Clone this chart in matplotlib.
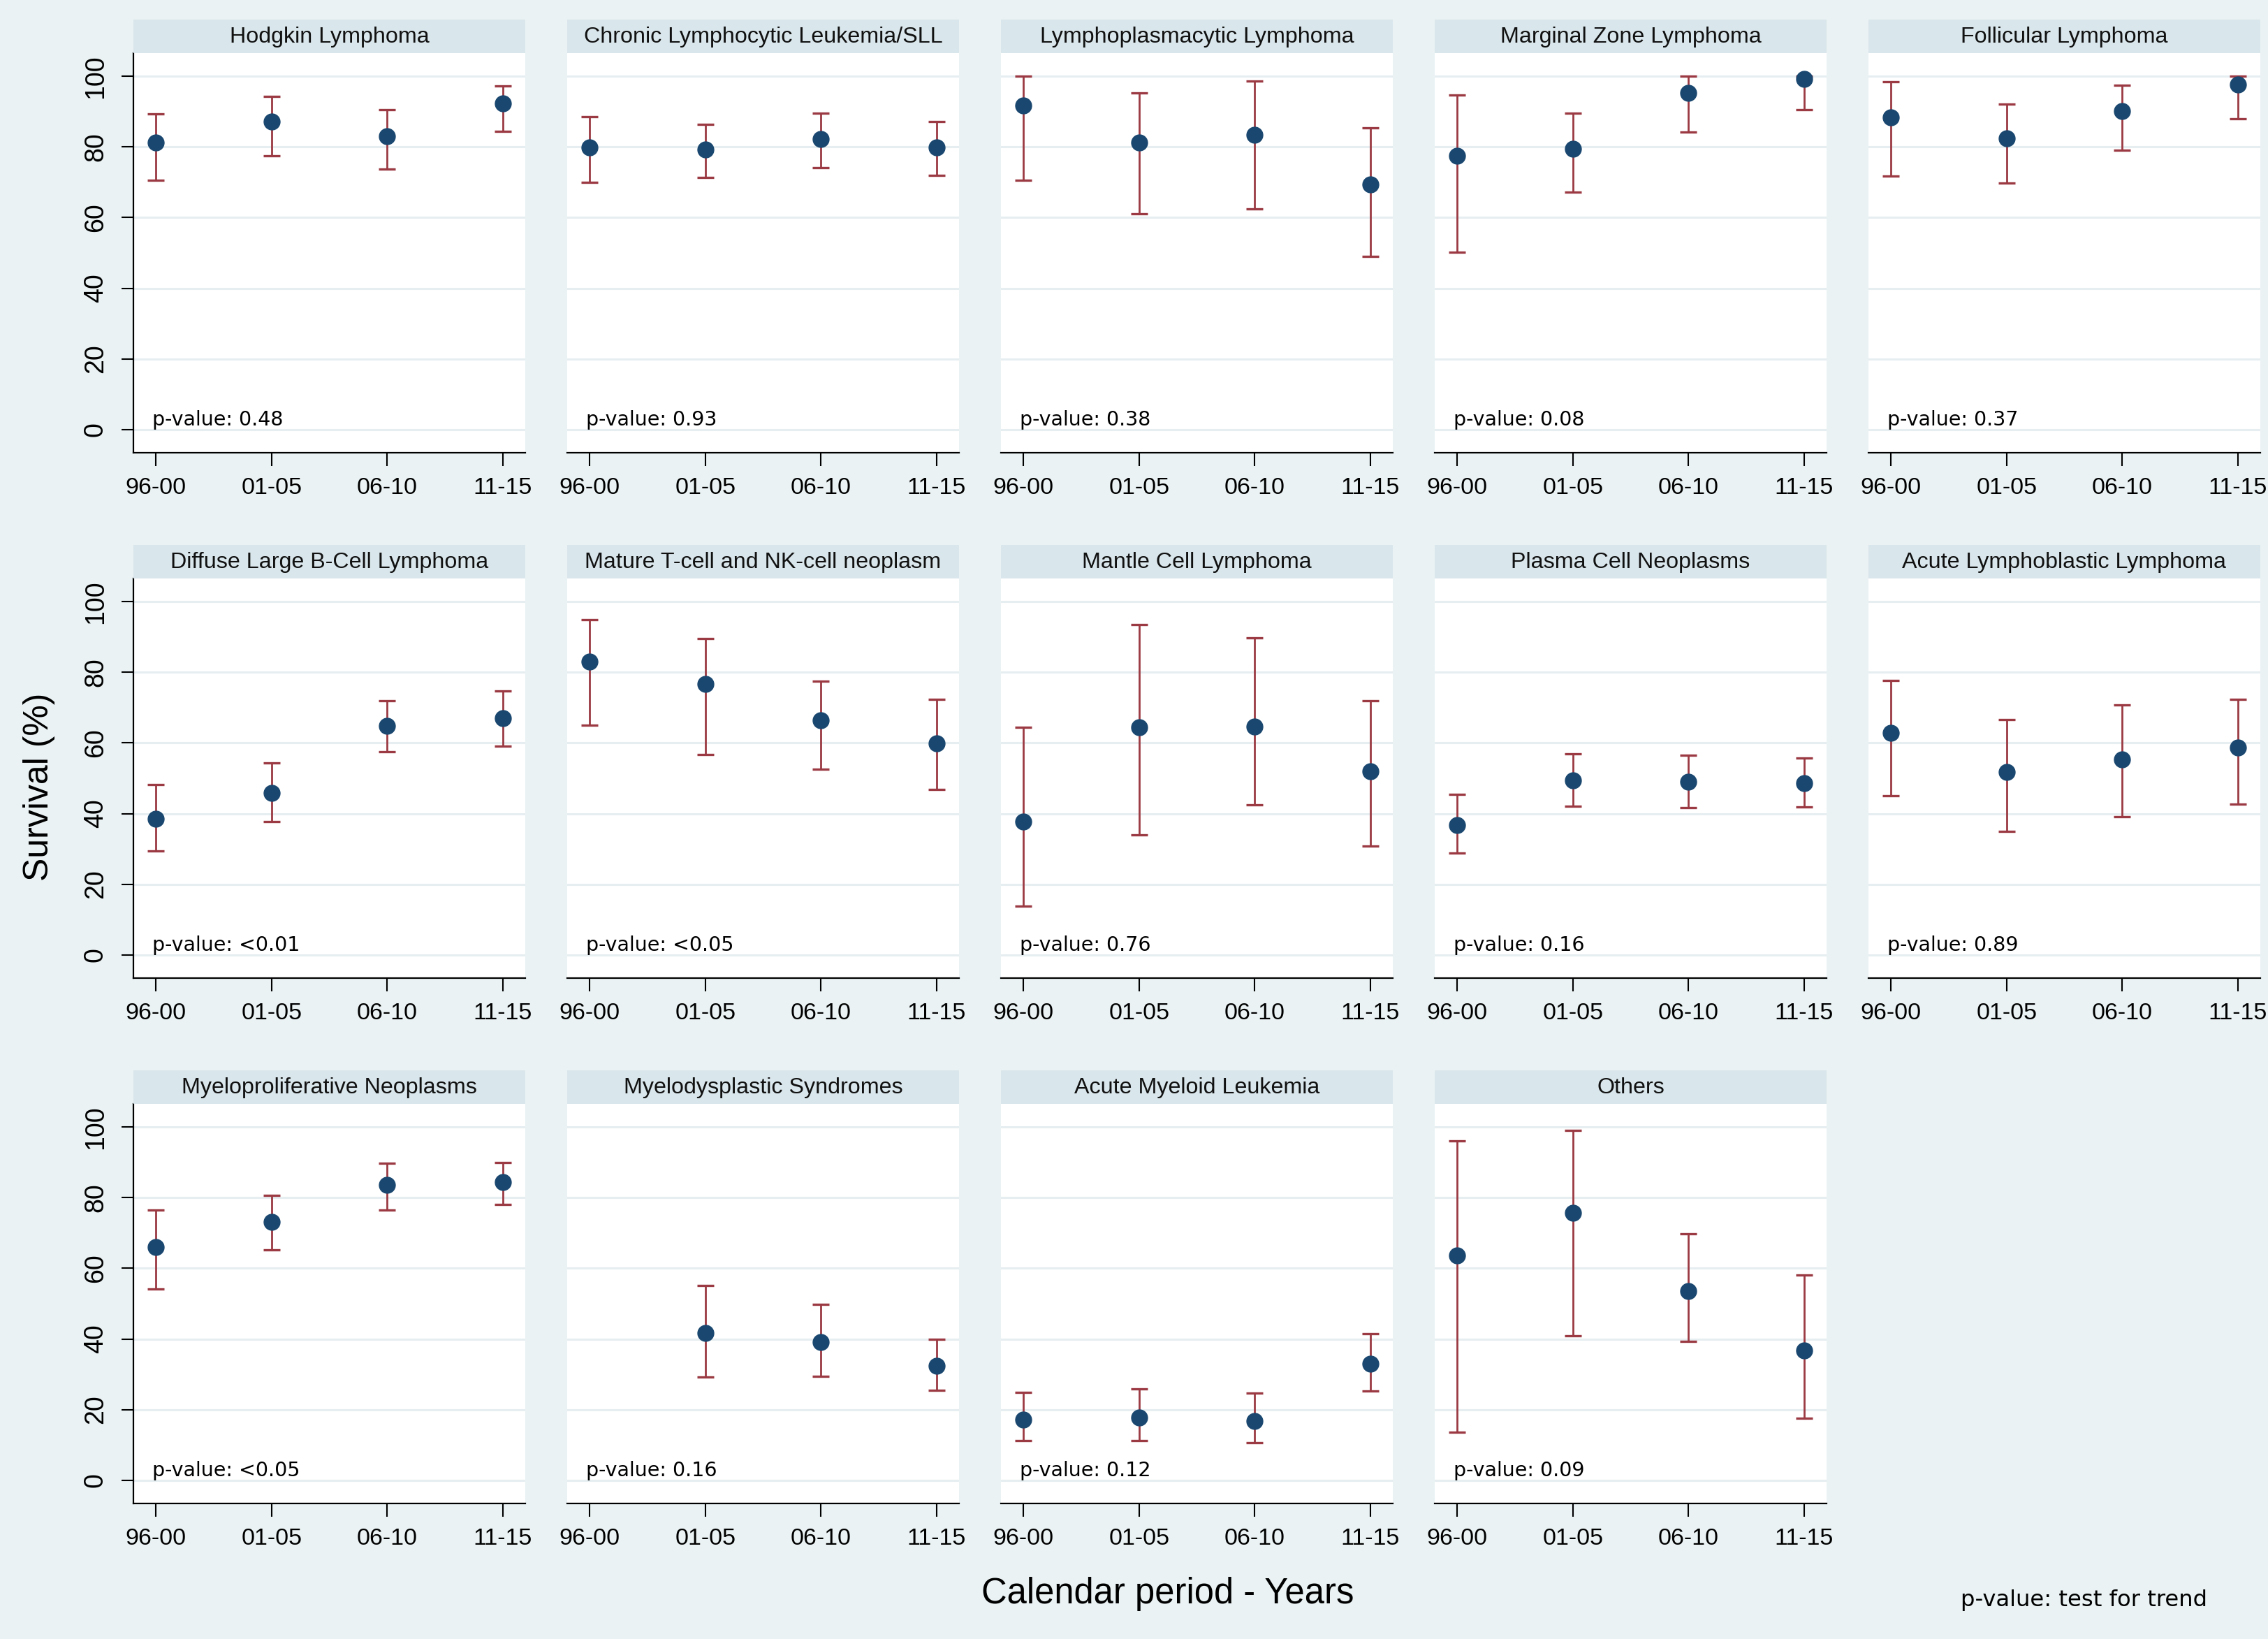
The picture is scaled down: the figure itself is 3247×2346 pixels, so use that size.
import numpy as np
import matplotlib
matplotlib.use('Agg')
import matplotlib.pyplot as plt

# ---------------- data ----------------
periods = ['96-00', '01-05', '06-10', '11-15']

categories = [
    'Hodgkin Lymphoma', 'Chronic Lymphocytic Leukemia/SLL', 'Lymphoplasmacytic Lymphoma',
    'Marginal Zone Lymphoma', 'Follicular Lymphoma',
    'Diffuse Large B-Cell Lymphoma', 'Mature T-cell and NK-cell neoplasm', 'Mantle Cell Lymphoma',
    'Plasma Cell Neoplasms', 'Acute Lymphoblastic Lymphoma',
    'Myeloproliferative Neoplasms', 'Myelodysplastic Syndromes', 'Acute Myeloid Leukemia', 'Others',
]

p_values = ['0.48', '0.93', '0.38', '0.08', '0.37',
            '<0.01', '<0.05', '0.76', '0.16', '0.89',
            '<0.05', '0.16', '0.12', '0.09']

nan = np.nan
survival = [
    [81.2, 87.2, 83.0, 92.3],
    [79.9, 79.3, 82.3, 79.9],
    [91.7, 81.3, 83.5, 69.3],
    [77.6, 79.5, 95.4, 99.3],
    [88.4, 82.5, 90.2, 97.7],
    [38.5, 45.8, 64.9, 67.0],
    [83.1, 76.8, 66.5, 59.8],
    [37.7, 64.4, 64.7, 52.0],
    [36.8, 49.5, 49.0, 48.7],
    [62.9, 51.7, 55.4, 58.8],
    [66.0, 73.2, 83.6, 84.4],
    [nan, 41.6, 39.1, 32.3],
    [17.2, 17.7, 16.8, 33.0],
    [63.7, 75.7, 53.6, 36.8],
]

ci_lower = [
    [70.6, 77.5, 73.8, 84.5],
    [70.0, 71.3, 74.2, 71.9],
    [70.6, 61.1, 62.5, 49.1],
    [50.2, 67.2, 84.3, 90.6],
    [71.7, 69.7, 79.1, 87.9],
    [29.5, 37.8, 57.6, 59.2],
    [65.1, 56.8, 52.6, 46.9],
    [13.8, 34.0, 42.4, 30.8],
    [28.9, 42.1, 41.6, 41.9],
    [45.0, 34.9, 39.1, 42.6],
    [54.2, 65.2, 76.6, 78.2],
    [nan, 29.3, 29.5, 25.4],
    [11.3, 11.2, 10.7, 25.2],
    [13.6, 40.8, 39.3, 17.6],
]

ci_upper = [
    [89.3, 94.3, 90.5, 97.2],
    [88.6, 86.5, 89.5, 87.2],
    [100.0, 95.4, 98.6, 85.5],
    [94.7, 89.5, 100.0, 100.0],
    [98.4, 92.2, 97.5, 100.0],
    [48.3, 54.3, 71.9, 74.8],
    [94.9, 89.6, 77.6, 72.3],
    [64.5, 93.5, 89.7, 72.0],
    [45.4, 56.9, 56.6, 55.7],
    [77.7, 66.7, 70.8, 72.3],
    [76.5, 80.6, 89.7, 90.0],
    [nan, 55.2, 49.8, 40.0],
    [24.9, 25.9, 24.7, 41.4],
    [96.2, 99.1, 69.8, 58.2],
]

y_ticks = [0, 20, 40, 60, 80, 100]

# ---------------- style ----------------
BG = '#EAF2F3'
STRIP = '#D9E6EB'
GRID = '#E6EEF1'
NAVY = '#1A476F'
MAROON = '#9B3A43'
SANS = ['Liberation Sans', 'DejaVu Sans']
PFONT = ['DejaVu Sans']

W, H = 3248, 2346
fig = plt.figure(figsize=(W / 100, H / 100), dpi=100, facecolor=BG)

col_left = [191, 812, 1433, 2054, 2675]
row_top = [76, 828, 1580]
ax_w, ax_h, strip_h = 561, 572, 48

x = np.arange(len(periods))

for i, cat in enumerate(categories):
    r, c = divmod(i, 5)
    l, t = col_left[c], row_top[r]

    ax = fig.add_axes([l / W, 1 - (t + ax_h) / H, ax_w / W, ax_h / H])
    sax = fig.add_axes([l / W, 1 - t / H, ax_w / W, strip_h / H])

    # strip
    sax.set_facecolor(STRIP)
    sax.set_xticks([]); sax.set_yticks([])
    for s in sax.spines.values():
        s.set_visible(False)
    sax.text(0.5, 0.47, cat, ha='center', va='center', fontsize=23.2,
             family=SANS, color='#111111', transform=sax.transAxes)

    # main panel
    ax.set_facecolor('white')
    ax.set_xlim(-0.195, 3.195)
    ax.set_ylim(-6.6, 106.6)
    ax.set_yticks(y_ticks)
    ax.set_xticks(x)
    ax.set_xticklabels(periods, family=SANS, fontsize=24.5)
    ax.yaxis.grid(True, color=GRID, lw=2.2)
    ax.set_axisbelow(True)

    for s in ['top', 'right']:
        ax.spines[s].set_visible(False)
    ax.spines['bottom'].set_linewidth(1.6)
    ax.spines['bottom'].set_color('black')
    ax.tick_params(axis='x', direction='out', length=14, width=1.5, pad=11,
                   colors='black')
    if c == 0:
        ax.spines['left'].set_linewidth(1.6)
        ax.spines['left'].set_color('black')
        ax.tick_params(axis='y', direction='out', length=12, width=1.5, pad=14,
                       labelsize=27, labelrotation=90)
        for lab in ax.get_yticklabels():
            lab.set_family(SANS)
            lab.set_va('center')
    else:
        ax.spines['left'].set_visible(False)
        ax.tick_params(axis='y', left=False, labelleft=False)

    e = np.array(survival[i], dtype=float)
    lo = np.array(ci_lower[i], dtype=float)
    hi = np.array(ci_upper[i], dtype=float)
    m = ~np.isnan(e)
    ax.errorbar(x[m], e[m], yerr=[e[m] - lo[m], hi[m] - e[m]], fmt='none',
                ecolor=MAROON, elinewidth=2.0, capsize=8.8, capthick=2.4, zorder=2)
    ax.plot(x[m], e[m], 'o', ms=16.5, color=NAVY, mec=NAVY, zorder=3)

    ax.text(-0.03, 1.2, 'p-value: ' + p_values[i], ha='left', va='baseline',
            fontsize=20.5, family=PFONT, color='black')

fig.text(56 / W, 1 - 1126 / H, 'Survival (%)', rotation=90, ha='center', va='center',
         fontsize=36, family=SANS)
fig.text(1672 / W, 1 - 2281 / H, 'Calendar period - Years', ha='center', va='center',
         fontsize=36.5, family=SANS)
fig.text(2807 / W, 1 - 2291 / H, 'p-value: test for trend', ha='left', va='center',
         fontsize=23.2, family=PFONT)

fig.savefig('out.png', dpi=100, facecolor=BG)
